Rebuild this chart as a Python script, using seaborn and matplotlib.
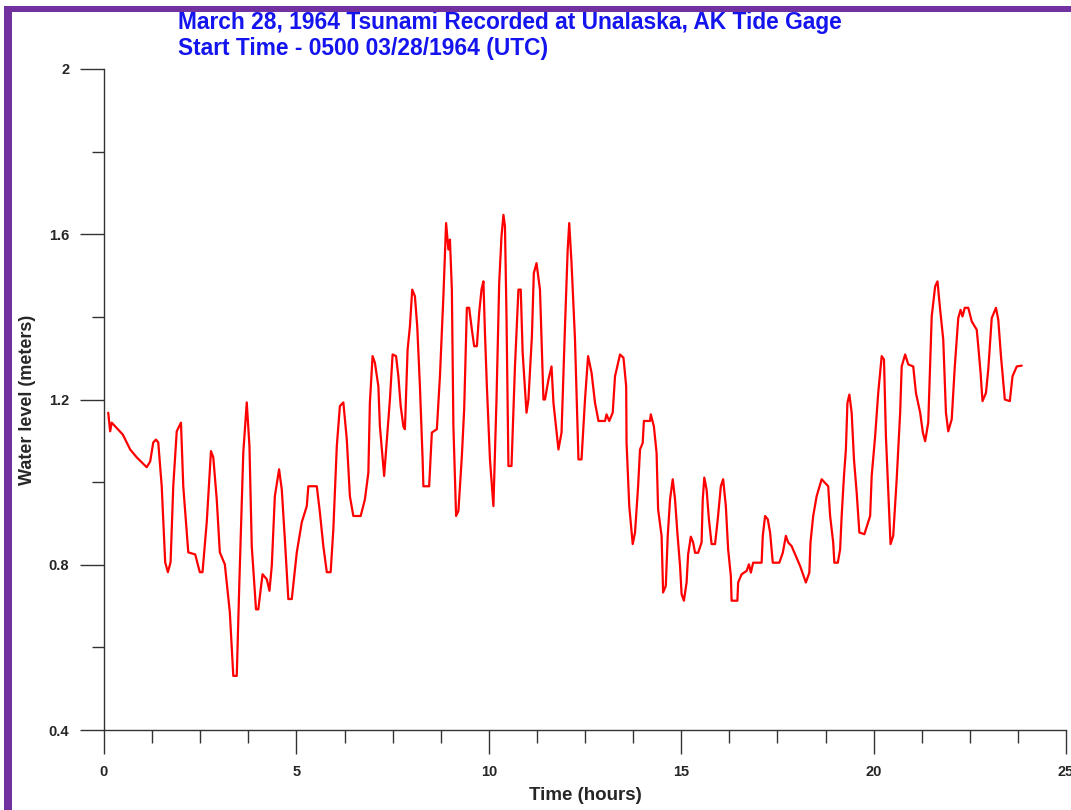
import matplotlib
matplotlib.use("Agg")
import matplotlib.pyplot as plt
from matplotlib.patches import Rectangle
from matplotlib.ticker import MultipleLocator
import seaborn as sns

# tide gage record
hours = [0.11, 0.16, 0.20, 0.49, 0.68, 0.85, 1.11, 1.20, 1.28, 1.35, 1.41, 1.50, 1.59, 1.66, 1.73, 1.80,
         1.89, 2.00, 2.06, 2.19, 2.37, 2.49, 2.56, 2.67, 2.78, 2.84, 2.93, 3.01, 3.14, 3.27, 3.36, 3.45,
         3.52, 3.62, 3.71, 3.78, 3.84, 3.95, 4.01, 4.12, 4.23, 4.30, 4.36, 4.44, 4.55, 4.62, 4.70, 4.79,
         4.88, 5.01, 5.14, 5.27, 5.31, 5.53, 5.61, 5.70, 5.79, 5.89, 5.96, 6.05, 6.13, 6.22, 6.31, 6.39,
         6.48, 6.67, 6.78, 6.87, 6.91, 6.98, 7.04, 7.13, 7.17, 7.28, 7.35, 7.43, 7.50, 7.59, 7.65, 7.71,
         7.78, 7.82, 7.89, 7.95, 8.01, 8.08, 8.14, 8.21, 8.28, 8.30, 8.45, 8.52, 8.65, 8.73, 8.82, 8.89,
         8.95, 8.99, 9.04, 9.08, 9.15, 9.21, 9.30, 9.36, 9.43, 9.49, 9.56, 9.62, 9.69, 9.75, 9.81, 9.86,
         9.90, 9.95, 10.03, 10.12, 10.20, 10.27, 10.33, 10.38, 10.42, 10.46, 10.51, 10.59, 10.68, 10.77,
         10.83, 10.88, 10.98, 11.03, 11.12, 11.17, 11.24, 11.33, 11.42, 11.46, 11.55, 11.63, 11.68, 11.81,
         11.89, 11.98, 12.05, 12.09, 12.15, 12.24, 12.33, 12.41, 12.50, 12.58, 12.67, 12.76, 12.85, 13.02,
         13.06, 13.13, 13.22, 13.28, 13.41, 13.50, 13.57, 13.58, 13.65, 13.74, 13.80, 13.88, 13.93, 14.00,
         14.03, 14.19, 14.21, 14.29, 14.36, 14.40, 14.49, 14.53, 14.60, 14.65, 14.71, 14.78, 14.84, 14.90,
         14.97, 15.01, 15.07, 15.14, 15.18, 15.25, 15.31, 15.36, 15.44, 15.53, 15.56, 15.60, 15.66, 15.72,
         15.79, 15.88, 15.95, 16.03, 16.09, 16.16, 16.22, 16.29, 16.31, 16.46, 16.48, 16.57, 16.70, 16.76,
         16.81, 16.87, 17.09, 17.12, 17.18, 17.25, 17.31, 17.38, 17.55, 17.64, 17.72, 17.78, 17.87, 17.98,
         18.09, 18.24, 18.33, 18.36, 18.43, 18.52, 18.65, 18.82, 18.87, 18.95, 18.98, 19.07, 19.13, 19.17,
         19.23, 19.28, 19.32, 19.37, 19.43, 19.49, 19.56, 19.63, 19.76, 19.91, 19.95, 20.04, 20.12, 20.21,
         20.27, 20.32, 20.38, 20.44, 20.51, 20.60, 20.69, 20.73, 20.82, 20.90, 21.03, 21.10, 21.21, 21.28,
         21.34, 21.42, 21.51, 21.60, 21.66, 21.73, 21.81, 21.88, 21.94, 22.03, 22.11, 22.20, 22.26, 22.31,
         22.37, 22.46, 22.55, 22.68, 22.72, 22.78, 22.83, 22.92, 22.98, 23.07, 23.18, 23.24, 23.31, 23.41,
         23.54, 23.61, 23.72, 23.85]

level = [1.168, 1.123, 1.144, 1.115, 1.079, 1.060, 1.036, 1.050, 1.096, 1.103, 1.096, 0.990, 0.806, 0.782,
         0.806, 0.990, 1.123, 1.144, 0.990, 0.830, 0.825, 0.782, 0.782, 0.903, 1.075, 1.060, 0.958, 0.830,
         0.801, 0.685, 0.531, 0.531, 0.765, 1.072, 1.193, 1.087, 0.845, 0.692, 0.692, 0.777, 0.765, 0.737,
         0.797, 0.966, 1.031, 0.982, 0.862, 0.717, 0.717, 0.830, 0.903, 0.942, 0.990, 0.990, 0.927, 0.845,
         0.782, 0.782, 0.886, 1.087, 1.184, 1.193, 1.103, 0.966, 0.918, 0.918, 0.958, 1.023, 1.193, 1.305,
         1.289, 1.232, 1.135, 1.015, 1.103, 1.200, 1.309, 1.305, 1.256, 1.184, 1.135, 1.128, 1.321, 1.377,
         1.466, 1.450, 1.377, 1.232, 1.055, 0.990, 0.990, 1.120, 1.128, 1.256, 1.450, 1.627, 1.563, 1.587,
         1.466, 1.135, 0.918, 0.930, 1.063, 1.176, 1.422, 1.422, 1.369, 1.329, 1.329, 1.410, 1.466, 1.486,
         1.361, 1.232, 1.055, 0.942, 1.200, 1.482, 1.595, 1.647, 1.619, 1.401, 1.039, 1.039, 1.280, 1.466,
         1.466, 1.313, 1.168, 1.200, 1.353, 1.506, 1.530, 1.466, 1.200, 1.200, 1.248, 1.280, 1.192, 1.079,
         1.120, 1.377, 1.563, 1.627, 1.530, 1.345, 1.055, 1.055, 1.200, 1.305, 1.265, 1.192, 1.148, 1.148,
         1.164, 1.148, 1.168, 1.256, 1.309, 1.301, 1.232, 1.095, 0.942, 0.850, 0.878, 0.990, 1.079, 1.095,
         1.148, 1.148, 1.164, 1.135, 1.071, 0.934, 0.870, 0.733, 0.749, 0.870, 0.958, 1.007, 0.958, 0.878,
         0.797, 0.729, 0.713, 0.757, 0.825, 0.868, 0.854, 0.829, 0.829, 0.854, 0.958, 1.011, 0.982, 0.910,
         0.850, 0.850, 0.910, 0.990, 1.007, 0.942, 0.837, 0.773, 0.713, 0.713, 0.757, 0.777, 0.785, 0.801,
         0.781, 0.805, 0.805, 0.870, 0.918, 0.910, 0.878, 0.805, 0.805, 0.829, 0.870, 0.854, 0.845, 0.821,
         0.797, 0.757, 0.781, 0.854, 0.918, 0.966, 1.007, 0.990, 0.918, 0.854, 0.805, 0.805, 0.837, 0.918,
         1.015, 1.079, 1.192, 1.212, 1.168, 1.055, 0.975, 0.878, 0.874, 0.918, 1.015, 1.111, 1.216, 1.305,
         1.297, 1.111, 0.982, 0.850, 0.870, 1.007, 1.168, 1.280, 1.309, 1.285, 1.280, 1.216, 1.168, 1.120,
         1.099, 1.144, 1.401, 1.474, 1.486, 1.417, 1.345, 1.168, 1.123, 1.152, 1.280, 1.397, 1.417, 1.401,
         1.422, 1.422, 1.389, 1.369, 1.329, 1.265, 1.196, 1.216, 1.273, 1.397, 1.422, 1.393, 1.305, 1.200,
         1.196, 1.256, 1.280, 1.282]

x_ticks = [0, 5, 10, 15, 20, 25]
y_ticks = [0.4, 0.8, 1.2, 1.6, 2]
y_labels = ["0.4", "0.8", "1.2", "1.6", "2"]

title1 = "March 28, 1964 Tsunami Recorded at Unalaska, AK Tide Gage"
title2 = "Start Time - 0500 03/28/1964 (UTC)"

sns.set_style("ticks")
plt.rcParams['font.family'] = ['Liberation Sans', 'DejaVu Sans']

fig = plt.figure(figsize=(10.71, 8.10), dpi=100)
fig.patch.set_facecolor("white")
ax = fig.add_axes([104 / 1071, 80 / 810, 962 / 1071, 661 / 810])

sns.lineplot(x=hours, y=level, ax=ax, color="#ff0000", linewidth=1.6,
             estimator=None, sort=False)

ax.set_xlim(0, 25)
ax.set_ylim(0.4, 2)
ax.set_xticks(x_ticks)
ax.set_xticklabels([str(t) for t in x_ticks])
ax.set_yticks(y_ticks)
ax.set_yticklabels(y_labels)
ax.xaxis.set_minor_locator(MultipleLocator(1.25))
ax.yaxis.set_minor_locator(MultipleLocator(0.2))

sns.despine(ax=ax)
for side in ["left", "bottom"]:
    ax.spines[side].set_color("#333333")
    ax.spines[side].set_linewidth(1.0)
ax.tick_params(which="major", direction="out", length=17, width=1.0, color="#333333",
               labelsize=10.5, pad=8)
ax.tick_params(which="minor", direction="out", length=9, width=1.0, color="#333333")
for lab in ax.get_xticklabels() + ax.get_yticklabels():
    lab.set_fontweight("bold")

ax.set_xlabel("Time (hours)", fontsize=13.5, fontweight="bold", labelpad=6)
ax.set_ylabel("Water level (meters)", fontsize=13, fontweight="bold")
ax.yaxis.set_label_coords(-0.071, 0.5)

fig.text(178 / 1071, 1 - 22 / 810, title1, color="#1414ee", fontsize=16.4,
         fontweight="bold", ha="left", va="center")
fig.text(178 / 1071, 1 - 48 / 810, title2, color="#1414ee", fontsize=16.4,
         fontweight="bold", ha="left", va="center")

# purple frame on the top and left edges
fig.patches.append(Rectangle((4 / 1071, 1 - 12 / 810), 1, 6 / 810, transform=fig.transFigure,
                             facecolor="#7132a0", edgecolor="none", zorder=5))
fig.patches.append(Rectangle((4 / 1071, 0), 8 / 1071, 1 - 6 / 810, transform=fig.transFigure,
                             facecolor="#7132a0", edgecolor="none", zorder=5))

fig.savefig("out.png", dpi=100, facecolor="white")
